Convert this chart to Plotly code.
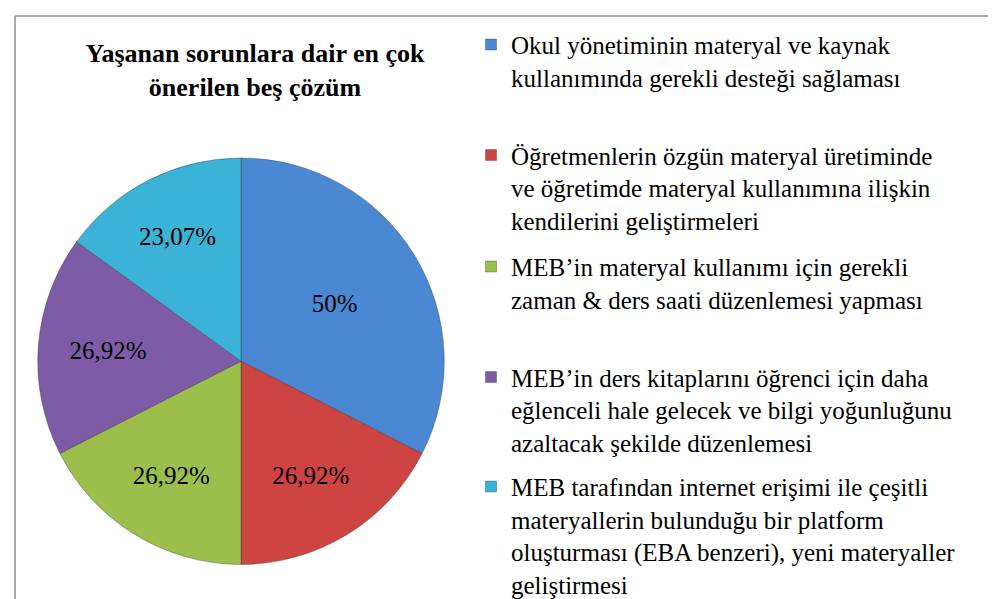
import plotly.graph_objects as go

# categories (legend text, wrapped as in the source)
categories = [
    "Okul yönetiminin materyal ve kaynak<br>kullanımında gerekli desteği sağlaması",
    "Öğretmenlerin özgün materyal üretiminde<br>ve öğretimde materyal kullanımına ilişkin<br>kendilerini geliştirmeleri",
    "MEB’in materyal kullanımı için gerekli<br>zaman & ders saati düzenlemesi yapması",
    "MEB’in ders kitaplarını öğrenci için daha<br>eğlenceli hale gelecek ve bilgi yoğunluğunu<br>azaltacak şekilde düzenlemesi",
    "MEB tarafından internet erişimi ile çeşitli<br>materyallerin bulunduğu bir platform<br>oluşturması (EBA benzeri), yeni materyaller<br>geliştirmesi",
]
values = [50, 26.92, 26.92, 26.92, 23.07]
colors = ["#4a88d4", "#cd4442", "#9cbf4b", "#7d5ba6", "#3bb3d6"]

SERIF = "Liberation Serif"
LEGEND_FONT = 25

slice_text = [f"{v:g}".replace(".", ",") + "%" for v in values]

fig = go.Figure()

fig.add_trace(go.Pie(
    labels=categories,
    values=values,
    text=slice_text,
    textinfo="text",
    textposition="inside",
    insidetextorientation="horizontal",
    insidetextfont=dict(family=SERIF, size=25, color="black"),
    marker=dict(colors=colors, line=dict(color="rgba(40,40,40,0.35)", width=1)),
    sort=False,
    direction="clockwise",
    rotation=0,
    domain=dict(x=[26 / 996, 440 / 996], y=[35 / 599, 447 / 599]),
    hoverinfo="label+percent",
    showlegend=False,
))

# one legend box per category so the rows can sit at the source's spacing
legend_tops = [14, 126, 239, 351, 462]
legend_layout = {}
for i, (cat, col) in enumerate(zip(categories, colors)):
    key = "legend" if i == 0 else f"legend{i + 1}"
    fig.add_trace(go.Scatter(
        x=[None], y=[None], mode="markers",
        marker=dict(symbol="square", size=11, color=col,
                    line=dict(color="rgba(0,0,0,0.25)", width=1)),
        name=cat, legend=key, hoverinfo="skip",
    ))
    legend_layout[key] = dict(
        x=463 / 996, xanchor="left",
        y=1 - legend_tops[i] / 599, yanchor="top",
        valign="top",
        font=dict(family=SERIF, size=LEGEND_FONT, color="black"),
        bgcolor="rgba(0,0,0,0)",
        itemclick=False, itemdoubleclick=False,
    )

fig.update_layout(
    width=996,
    height=599,
    margin=dict(t=0, b=0, l=0, r=0),
    paper_bgcolor="white",
    plot_bgcolor="white",
    xaxis=dict(visible=False),
    yaxis=dict(visible=False),
    title=dict(
        text="<b>Yaşanan sorunlara dair en çok<br>önerilen beş çözüm</b>",
        x=247 / 996, xanchor="center",
        y=1 - 54 / 599, yanchor="top",
        font=dict(family=SERIF, size=26, color="black"),
    ),
    showlegend=True,
    shapes=[
        dict(type="line", xref="paper", yref="paper",
             x0=7 / 996, x1=1.01, y0=1 - 8 / 599, y1=1 - 8 / 599,
             line=dict(color="#8c8c8c", width=1.5)),
        dict(type="line", xref="paper", yref="paper",
             x0=7 / 996, x1=7 / 996, y0=1 - 8 / 599, y1=-0.01,
             line=dict(color="#8c8c8c", width=1.5)),
    ],
    **legend_layout,
)

fig.write_html("out.html")
